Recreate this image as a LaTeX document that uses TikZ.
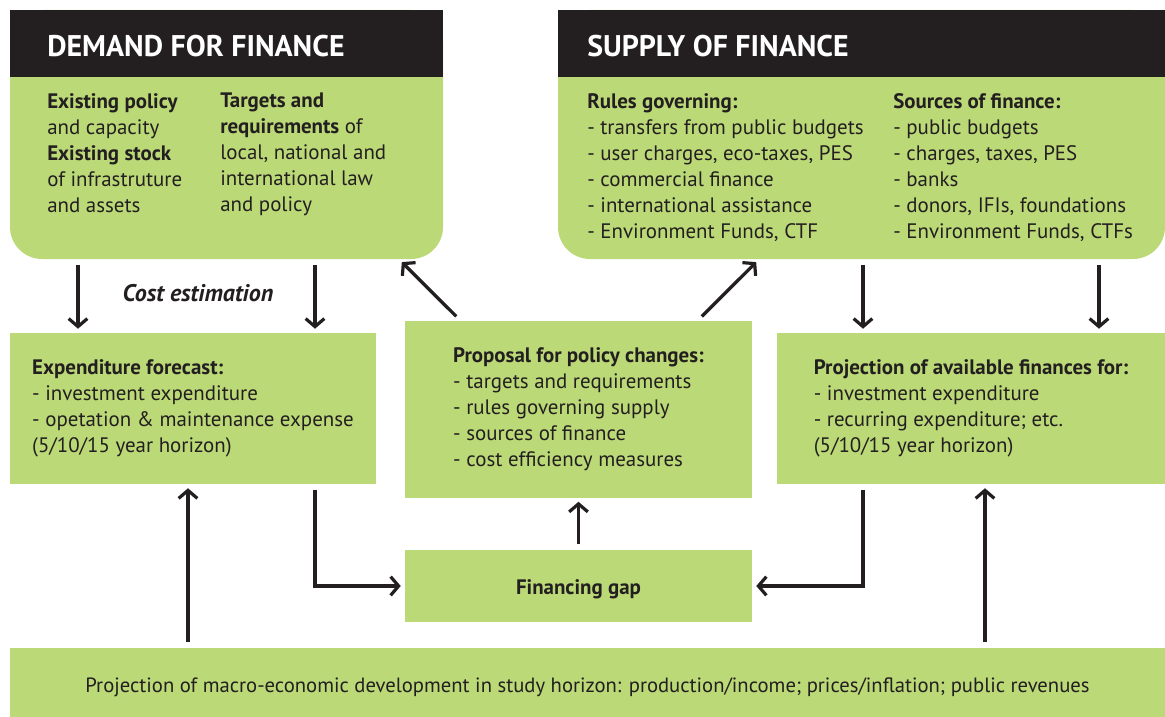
\documentclass[tikz,border=0pt]{standalone}
\usepackage{fontspec}
\setmainfont{PT Sans}
\usetikzlibrary{arrows.meta,fit}
\definecolor{leaf}{HTML}{BCD977}
\definecolor{ink}{HTML}{231F20}
\tikzset{
  gbox/.style={fill=leaf, inner sep=0pt, align=left, text=ink, font=\fontsize{15.7}{19.5}\selectfont},
  coltext/.style={anchor=north west, inner sep=0pt, align=left, text=ink, font=\fontsize{15.7}{19.5}\selectfont},
  headtext/.style={anchor=west, inner sep=0pt, text=white, font=\fontsize{22.4}{26}\selectfont\bfseries},
  arr/.style={draw=ink, line width=2.4pt, -{Straight Barb[length=6pt,width=14pt]}, shorten <=4pt, shorten >=3pt},
}
\begin{document}
\begin{tikzpicture}[x=0.75pt,y=-0.75pt]
  \useasboundingbox (0,0) rectangle (1165,717);

  %%%%% top panels %%%%%
  \fill[leaf, rounded corners=24pt] (10,10) rectangle (443,259);
  \fill[ink] (10,10) rectangle (443,77);
  \node[fit={(10,10) (443,259)}, inner sep=0pt] (demand) {};
  \node[headtext] (demandtitle) at (47,46) {DEMAND FOR FINANCE};
  \node[coltext] (demandleft) at (47,93) {\textbf{Existing policy}\\and capacity\\\textbf{Existing stock}\\of infrastruture\\and assets};
  \node[coltext] (demandright) at (220,93) {\textbf{Targets and}\\\textbf{requirements} of\\local, national and\\international law\\and policy};

  \fill[leaf, rounded corners=24pt] (558,10) rectangle (1165,259);
  \fill[ink] (558,10) rectangle (1165,77);
  \node[fit={(558,10) (1165,259)}, inner sep=0pt] (supply) {};
  \node[headtext] (supplytitle) at (587,46) {SUPPLY OF FINANCE};
  \node[coltext] (supplyleft) at (587,93) {\textbf{Rules governing:}\\- transfers from public budgets\\- user charges, eco-taxes, PES\\- commercial finance\\- international assistance\\- Environment Funds, CTF};
  \node[coltext] (supplyright) at (893,93) {\textbf{Sources of finance:}\\- public budgets\\- charges, taxes, PES\\- banks\\- donors, IFIs, foundations\\- Environment Funds, CTFs};

  %%%%% middle row %%%%%
  \node[gbox, minimum width=274.5pt, minimum height=113.25pt] (expend) at (193,408.5)
    {\textbf{Expenditure forecast:}\\- investment expenditure\\- opetation \& maintenance expense\\(5/10/15 year horizon)};
  \node[gbox, minimum width=260.25pt, minimum height=132.75pt] (proposal) at (578.5,409)
    {\textbf{Proposal for policy changes:}\\- targets and requirements\\- rules governing supply\\- sources of finance\\- cost efficiency measures};
  \node[gbox, minimum width=291pt, minimum height=113.25pt] (project) at (971,408.5)
    {\textbf{Projection of available finances for:}\\- investment expenditure\\- recurring expenditure; etc.\\(5/10/15 year horizon)};

  %%%%% bottom %%%%%
  \node[gbox, minimum width=260.25pt, minimum height=54pt, text height=13pt, text depth=0pt, font=\fontsize{15.7}{19.5}\selectfont\bfseries] (gap) at (578.5,586) {Financing gap};
  \node[gbox, minimum width=866.25pt, minimum height=51.75pt, text height=15pt, text depth=0pt, font=\fontsize{15.5}{18}\selectfont] (macro) at (587.5,682.5)
    {Projection of macro-economic development in study horizon: production/income; prices/inflation; public revenues};

  \node[text=ink, inner sep=0pt, font=\fontsize{18}{21}\selectfont\bfseries\itshape] (costlabel) at (198,293) {Cost estimation};

  %%%%% arrows %%%%%
  \draw[arr] (demand.south -| 78,0) -- (expend.north -| 78,0);
  \draw[arr] (demand.south -| 315,0) -- (expend.north -| 315,0);
  \draw[arr] (proposal.north -| 460,0) -- (demand.south -| 399,0);
  \draw[arr] (proposal.north -| 698,0) -- (supply.south -| 759,0);
  \draw[arr] (supply.south -| 863,0) -- (project.north -| 863,0);
  \draw[arr] (supply.south -| 1099,0) -- (project.north -| 1099,0);
  \draw[arr] (expend.south -| 315,0) |- (gap.west);
  \draw[arr] (project.south -| 863,0) |- (gap.east);
  \draw[arr] (gap.north) -- (proposal.south);
  \draw[arr] (macro.north -| 188,0) -- (expend.south -| 188,0);
  \draw[arr] (macro.north -| 985,0) -- (project.south -| 985,0);
\end{tikzpicture}
\end{document}
